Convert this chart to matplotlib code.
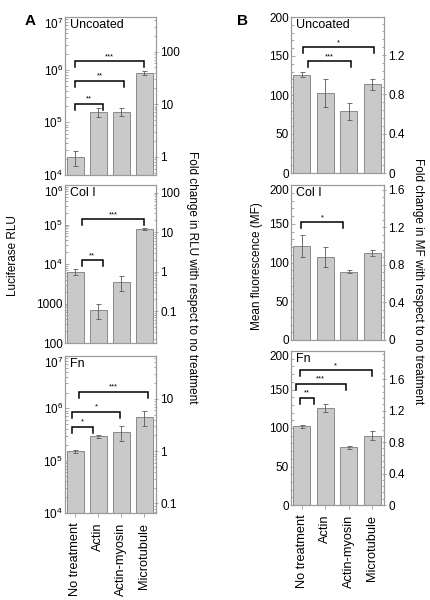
import math

import matplotlib
matplotlib.use("Agg")
import matplotlib.pyplot as plt
import matplotlib.ticker as mticker
from matplotlib.transforms import blended_transform_factory

plt.rcParams["font.family"] = ["Liberation Sans", "DejaVu Sans"]
plt.rcParams["mathtext.fontset"] = "custom"
plt.rcParams["mathtext.rm"] = "Liberation Sans"
plt.rcParams["font.size"] = 8.5

treatments = ["No treatment", "Actin", "Actin-myosin", "Microtubule"]
coatings = ["Uncoated", "Col I", "Fn"]

# Luciferase RLU (panel A)
rlu_uncoated = [2.2e4, 1.55e5, 1.6e5, 8.8e5]
rlu_uncoated_err = [7e3, 3e4, 2.8e4, 8e4]
rlu_col = [6.4e3, 700, 3.6e3, 7.6e4]
rlu_col_err = [1.1e3, 290, 1.5e3, 4e3]
rlu_fn = [1.52e5, 2.96e5, 3.5e5, 6.8e5]
rlu_fn_err = [1e4, 2e4, 1.1e5, 2.2e5]

# Mean fluorescence (panel B)
mf_uncoated = [126, 102, 79, 114]
mf_uncoated_err = [3, 18, 11, 7]
mf_col = [121, 107, 88, 112]
mf_col_err = [14, 13, 2, 4]
mf_fn = [102, 126, 75, 90]
mf_fn_err = [1.5, 5, 2, 6]

# significance brackets: (x start, x end, y, label)
sig_a = [
    [(-0.02, 2.98, 1.45e6, "***"), (0.0, 2.12, 6.1e5, "**"), (0.0, 1.18, 2.25e5, "**")],
    [(0.28, 2.98, 1.36e5, "***"), (0.28, 1.18, 1.23e4, "**")],
    [(0.15, 3.15, 2.05e6, "***"), (-0.15, 1.95, 8.5e5, "*"), (-0.15, 0.75, 4.4e5, "*")],
]
sig_b = [
    [(0.05, 3.07, 161, "*"), (0.27, 2.08, 143, "***")],
    [(-0.03, 1.77, 152, "*")],
    [(-0.07, 2.98, 175, "*"), (-0.24, 1.87, 157, "***"), (-0.07, 0.54, 139, "**")],
]

rlu_ylims = [(1e4, 1e7), (100, 1e6), (1e4, 1e7)]

W, H = 431, 600
pos_a = [(65, 17, 156, 175), (65, 185, 156, 343), (65, 356, 156, 513)]
pos_b = [(291, 17, 384, 173), (291, 185, 384, 340), (291, 351, 384, 505)]

BAR = "#c9c9c9"
EDGE = "#8a8a8a"
SPINE = "#9a9a9a"


def px_rect(p):
    x0, y0, x1, y1 = p
    return [x0 / W, 1 - y1 / H, (x1 - x0) / W, (y1 - y0) / H]


def rlu_fmt(v, _):
    if v < 1e4:
        return "%d" % round(v)
    return r"$\mathdefault{10^{%d}}$" % round(math.log10(v))


def style(ax):
    for s in ax.spines.values():
        s.set_color(SPINE)
        s.set_linewidth(0.8)
    ax.tick_params(which="both", color=SPINE, width=0.6, labelcolor="black")
    ax.tick_params(which="major", length=3)
    ax.tick_params(which="minor", length=1.8)


def nudge_top_label(fig, ax):
    # keep the top label of a stacked panel from running into the panel above
    fig.canvas.draw()
    hi = ax.get_ylim()[1]
    for tick in ax.yaxis.get_major_ticks():
        if math.isclose(tick.get_loc(), hi, rel_tol=1e-6):
            tick.label1.set_va("top")


def draw_brackets(ax, brackets):
    tr = blended_transform_factory(ax.transData, ax.transAxes)
    for x0, x1, y, lab in brackets:
        ya = ax.transAxes.inverted().transform(ax.transData.transform((0, y)))[1]
        ax.plot([x0, x0, x1, x1], [ya - 0.038, ya, ya, ya - 0.038], color="black",
                lw=1.1, transform=tr, clip_on=False, solid_joinstyle="miter")
        ax.text((x0 + x1) / 2, ya + 0.008, lab, transform=tr, ha="center", va="bottom",
                fontsize=5.5)


def draw_panel(fig, rect, vals, errs, coating, log, ylim, brackets, last):
    ax = fig.add_axes(rect)
    x = range(len(vals))
    ax.bar(x, vals, width=0.72, color=BAR, edgecolor=EDGE, linewidth=0.7, zorder=2)
    ax.errorbar(x, vals, yerr=errs, fmt="none", ecolor="#5a5a5a", elinewidth=0.6,
                capsize=1.8, capthick=0.6, zorder=3)
    ax.set_xlim(-0.45, 3.5)
    ref = vals[0]
    if log:
        ax.set_yscale("log")
        ax.set_ylim(*ylim)
        ax.yaxis.set_major_locator(mticker.LogLocator(base=10))
        ax.yaxis.set_major_formatter(mticker.FuncFormatter(rlu_fmt))
        ax.yaxis.set_minor_locator(mticker.LogLocator(base=10, subs=range(2, 10)))
        ax.yaxis.set_minor_formatter(mticker.NullFormatter())
    else:
        ax.set_ylim(0, 200)
        ax.set_yticks([0, 50, 100, 150, 200])
        ax.yaxis.set_minor_locator(mticker.AutoMinorLocator(5))
    ax.tick_params(axis="y", which="both", direction="in")
    ax.tick_params(axis="y", which="major", pad=1.5)
    if last:
        ax.set_xticks(list(x))
        ax.set_xticklabels(treatments, rotation=90, fontsize=9.2)
        ax.tick_params(axis="x", length=0, pad=4)
    else:
        ax.set_xticks([])
    style(ax)
    ax.text(0.05, 0.985, coating, transform=ax.transAxes, ha="left", va="top", fontsize=9)

    ax2 = ax.twinx()
    lo, hi = ax.get_ylim()
    if log:
        ax2.set_yscale("log")
        ax2.set_ylim(lo / ref, hi / ref)
        ax2.yaxis.set_major_locator(mticker.LogLocator(base=10))
        ax2.yaxis.set_major_formatter(mticker.FuncFormatter(lambda v, _: "%g" % v))
        ax2.yaxis.set_minor_locator(mticker.LogLocator(base=10, subs=range(2, 10)))
        ax2.yaxis.set_minor_formatter(mticker.NullFormatter())
    else:
        ax2.set_ylim(0, 200 / ref)
        ax2.yaxis.set_major_locator(mticker.MultipleLocator(0.4))
        ax2.yaxis.set_major_formatter(mticker.FuncFormatter(lambda v, _: "%g" % round(v, 1)))
        ax2.yaxis.set_minor_locator(mticker.AutoMinorLocator(5))
    ax2.tick_params(axis="y", which="major", direction="inout", pad=1.5)
    ax2.tick_params(axis="y", which="minor", direction="in")
    style(ax2)
    draw_brackets(ax, brackets)
    return ax


def main():
    fig = plt.figure(figsize=(W / 100, H / 100), dpi=100)

    rlu = [(rlu_uncoated, rlu_uncoated_err), (rlu_col, rlu_col_err), (rlu_fn, rlu_fn_err)]
    mf = [(mf_uncoated, mf_uncoated_err), (mf_col, mf_col_err), (mf_fn, mf_fn_err)]

    axes_a, axes_b = [], []
    for i in range(3):
        axes_a.append(draw_panel(fig, px_rect(pos_a[i]), rlu[i][0], rlu[i][1], coatings[i],
                                 True, rlu_ylims[i], sig_a[i], i == 2))
        axes_b.append(draw_panel(fig, px_rect(pos_b[i]), mf[i][0], mf[i][1], coatings[i],
                                 False, None, sig_b[i], i == 2))

    for ax in axes_a + axes_b[1:]:
        nudge_top_label(fig, ax)

    fig.text(30 / W, 1 - 21 / H, "A", fontsize=11, fontweight="bold", ha="center", va="center")
    fig.text(243 / W, 1 - 21 / H, "B", fontsize=11, fontweight="bold", ha="center", va="center")
    fig.text(13 / W, 1 - 256 / H, "Luciferase RLU", rotation=90, ha="center", va="center")
    fig.text(192 / W, 1 - 277 / H, "Fold change in RLU with respect to no treatment",
             rotation=270, ha="center", va="center")
    fig.text(257 / W, 1 - 266 / H, "Mean fluorescence (MF)", rotation=90, ha="center", va="center")
    fig.text(418 / W, 1 - 281 / H, "Fold change in MF with respect to no treatment",
             rotation=270, ha="center", va="center")

    fig.savefig("out.png", dpi=100)


if __name__ == "__main__":
    main()
